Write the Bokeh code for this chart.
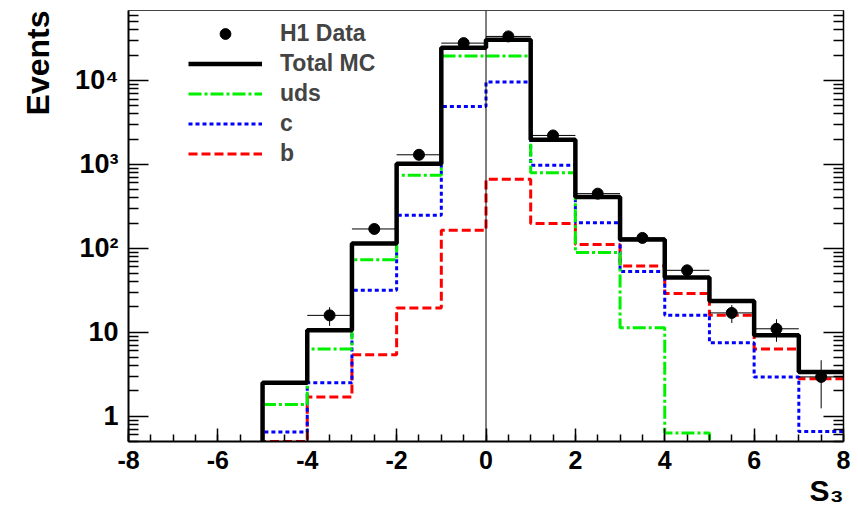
from bokeh.plotting import figure
from bokeh.models import (ColumnDataSource, FixedTicker, SingleIntervalTicker, LogAxis,
                          Legend, LegendItem, Title, Span)
from bokeh.embed import file_html
from bokeh.resources import INLINE

# ---------------- data ----------------
bin_edges = [-5, -4, -3, -2, -1, 0, 1, 2, 3, 4, 5, 6, 7, 8]
total_mc = [2.5, 10.6, 114, 1020, 24500, 30500, 1970, 408, 127, 44.8, 23.6, 9.2, 3.37]
uds      = [1.38, 6.3, 73, 740, 19500, 19500, 797, 89, 11.3, 0.63, 0, 0, 0]
c_quark  = [0.65, 2.5, 31.6, 247, 4900, 9550, 973, 202, 53, 15.9, 7.5, 2.94, 0.66]
b_quark  = [0.5, 1.7, 5.4, 19.5, 164, 663, 197, 111, 61.6, 28.9, 15.9, 6.3, 2.8]

data_x   = [-3.5, -2.5, -1.5, -0.5, 0.5, 1.5, 2.5, 3.5, 4.5, 5.5, 6.5, 7.5]
data_y   = [15.9, 170, 1300, 27800, 33400, 2210, 448, 133, 54.7, 17, 11, 2.94]
data_err = [4.0, 13, 36, 167, 183, 47, 21, 11.5, 7.4, 4.1, 3.3, 1.7]
bin_half = 0.5

y_ticks = [1, 10, 100, 1000, 10000]
y_tick_labels = ["1", "10", "10²", "10³", "10⁴"]
x_ticks = [-8, -6, -4, -2, 0, 2, 4, 6, 8]
x_tick_labels = ["-8", "-6", "-4", "-2", "0", "2", "4", "6", "8"]

Y_MIN, Y_MAX = 0.5, 6.8e4
FLOOR = 1e-3  # value drawn for empty bins (below the visible range)
FONT = "Liberation Sans"

p = figure(width=858, height=514, x_range=(-8, 8), y_range=(Y_MIN, Y_MAX),
           y_axis_type="log", output_backend="svg", toolbar_location=None,
           min_border_left=128, min_border_right=15, min_border_top=10, min_border_bottom=73)
p.xgrid.visible = False
p.ygrid.visible = False
p.outline_line_color = "#444444"
p.outline_line_width = 1
p.background_fill_color = "white"
p.border_fill_color = "white"

# ---------------- axes ----------------
minor_y = [m * 10 ** e for e in range(-1, 5) for m in range(2, 10) if Y_MIN <= m * 10 ** e <= Y_MAX]
yticker = FixedTicker(ticks=y_ticks, minor_ticks=minor_y)

ax = p.yaxis[0]
ax.ticker = yticker
ax.major_label_overrides = dict(zip(y_ticks, y_tick_labels))
ax.major_label_text_font = FONT
ax.major_label_text_font_style = "bold"
ax.major_label_text_font_size = "27px"
ax.major_label_text_color = "black"
ax.major_label_standoff = 10
ax.axis_line_width = 2
ax.major_tick_in = 20
ax.major_tick_out = 0
ax.minor_tick_in = 10
ax.minor_tick_out = 0
ax.major_tick_line_width = 1.5
ax.minor_tick_line_width = 1.5

rax = LogAxis(ticker=yticker, major_label_text_font_size="1px", major_label_text_color=None,
              major_label_standoff=0,
              major_tick_in=20, major_tick_out=0, minor_tick_in=10, minor_tick_out=0,
              axis_line_width=1.5, major_tick_line_width=1.5, minor_tick_line_width=1.5)
p.add_layout(rax, "right")

bx = p.xaxis[0]
bx.ticker = SingleIntervalTicker(interval=2, num_minor_ticks=4)
bx.major_label_overrides = dict(zip(x_ticks, x_tick_labels))
bx.major_label_text_font = FONT
bx.major_label_text_font_style = "bold"
bx.major_label_text_font_size = "25px"
bx.major_label_text_color = "black"
bx.major_label_standoff = 9
bx.axis_line_width = 2
bx.major_tick_in = 13
bx.major_tick_out = 0
bx.minor_tick_in = 7
bx.minor_tick_out = 0
bx.major_tick_line_width = 1.5
bx.minor_tick_line_width = 1.5

# axis titles (ROOT style: at the end of the axis)
p.add_layout(Title(text="Events", align="right", text_font=FONT, text_font_style="bold",
                   text_font_size="32px", text_color="black", standoff=33), "left")
p.add_layout(Title(text="S₃", align="right", text_font=FONT, text_font_style="bold",
                   text_font_size="30px", text_color="black", standoff=0), "below")

# vertical line at zero
p.add_layout(Span(location=0, dimension="height", line_color="black", line_width=1))

# ---------------- histograms ----------------
def step_source(vals):
    xs = [bin_edges[0]] + list(bin_edges)
    ys = [FLOOR] + [v if v > 0 else FLOOR for v in vals] + [vals[-1] if vals[-1] > 0 else FLOOR]
    return ColumnDataSource(dict(x=xs, y=ys))

r_b = p.step("x", "y", source=step_source(b_quark), mode="after", line_color="#ff0000",
             line_width=3, line_dash="9 4")
r_c = p.step("x", "y", source=step_source(c_quark), mode="after", line_color="#0000ff",
             line_width=3, line_dash="4 3")
r_u = p.step("x", "y", source=step_source(uds), mode="after", line_color="#00f000",
             line_width=3, line_dash="13 3 3 3")
r_t = p.step("x", "y", source=step_source(total_mc), mode="after", line_color="black",
             line_width=4.5)

# ---------------- data points ----------------
dsrc = ColumnDataSource(dict(
    x=data_x, y=data_y,
    xl=[x - bin_half for x in data_x], xr=[x + bin_half for x in data_x],
    lo=[y - e for y, e in zip(data_y, data_err)], hi=[y + e for y, e in zip(data_y, data_err)],
))
p.segment("xl", "y", "xr", "y", source=dsrc, line_color="black", line_width=1)
p.segment("x", "lo", "x", "hi", source=dsrc, line_color="black", line_width=1)
r_d = p.scatter("x", "y", source=dsrc, size=11, marker="circle", fill_color="black",
                line_color="black")

# ---------------- legend ----------------
legend = Legend(items=[
    LegendItem(label="H1 Data", renderers=[r_d]),
    LegendItem(label="Total MC", renderers=[r_t]),
    LegendItem(label="uds", renderers=[r_u]),
    LegendItem(label="c", renderers=[r_c]),
    LegendItem(label="b", renderers=[r_b]),
], location=(60, 274), orientation="vertical", margin=0, padding=0, spacing=3,
   glyph_width=74, glyph_height=27, label_height=26, label_standoff=18,
   label_text_font=FONT, label_text_font_style="bold", label_text_font_size="23px",
   label_text_baseline="middle", border_line_alpha=0, background_fill_alpha=0)
p.add_layout(legend)

open("out.html", "w").write(file_html(p, INLINE))
